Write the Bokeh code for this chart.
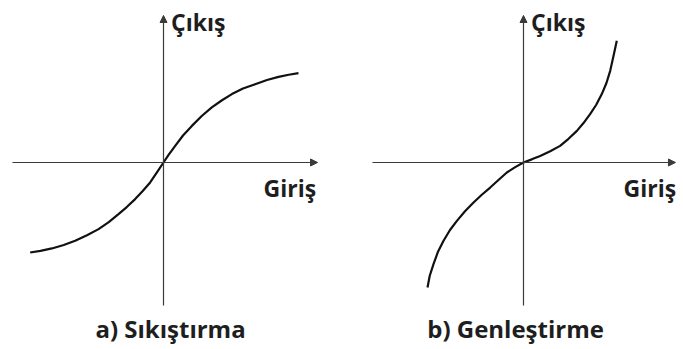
from bokeh.plotting import figure
from bokeh.models import Range1d, Arrow, NormalHead
from bokeh.layouts import row
from bokeh.core.properties import value
from bokeh.embed import file_html
from bokeh.resources import INLINE

# --- data (units: 1 = half-axis length approx) ---
comp_x = [-0.889, -0.82, -0.744, -0.665, -0.589, -0.51, -0.433, -0.365, -0.3,
          -0.245, -0.189, -0.14, -0.089, -0.045, 0.0, 0.035, 0.078, 0.13,
          0.189, 0.255, 0.322, 0.39, 0.456, 0.53, 0.611, 0.69, 0.767, 0.835, 0.9]
comp_y = [-0.6, -0.589, -0.573, -0.55, -0.522, -0.485, -0.444, -0.397, -0.344,
          -0.297, -0.244, -0.192, -0.133, -0.068, 0.0, 0.052, 0.111, 0.18,
          0.244, 0.31, 0.367, 0.415, 0.456, 0.493, 0.522, 0.55, 0.571, 0.585, 0.596]

exp_x = [-0.64, -0.625, -0.6, -0.57, -0.533, -0.49, -0.444, -0.39, -0.333,
         -0.278, -0.222, -0.167, -0.111, -0.055, 0.0, 0.055, 0.111, 0.178,
         0.244, 0.30, 0.356, 0.40, 0.444, 0.485, 0.522, 0.553, 0.578, 0.60, 0.622]
exp_y = [-0.833, -0.755, -0.678, -0.595, -0.522, -0.45, -0.389, -0.325, -0.267,
         -0.215, -0.167, -0.117, -0.067, -0.031, 0.0, 0.021, 0.044, 0.075,
         0.111, 0.158, 0.211, 0.263, 0.322, 0.385, 0.456, 0.53, 0.611, 0.71, 0.811]

y_label = "Çıkış"
x_label = "Giriş"
titles = ["a) Sıkıştırma", "b) Genleştirme"]

FONT = value("Open Sans")
TXT = "#1e1e1e"
AX = "#3a3a3a"
FS = "23px"
TFS = "24px"


def panel(xr, w, xs, ys, title, title_x, hx0, hx1):
    p = figure(width=w, height=349, x_range=Range1d(*xr),
               y_range=Range1d(-1.2467, 1.08),
               output_backend="svg", toolbar_location=None, min_border=0)
    p.axis.visible = False
    p.grid.visible = False
    p.outline_line_color = None
    p.background_fill_color = "white"
    # axes with arrows
    p.add_layout(Arrow(x_start=hx0, y_start=0, x_end=hx1, y_end=0,
                       line_color=AX, line_width=1.2,
                       end=NormalHead(size=7, fill_color=AX, line_color=AX)))
    p.add_layout(Arrow(x_start=0, y_start=-0.953, x_end=0, y_end=0.98,
                       line_color=AX, line_width=1.2,
                       end=NormalHead(size=7, fill_color=AX, line_color=AX)))
    p.line(xs, ys, line_color="#111111", line_width=2.2, line_join="round")
    p.text(x=[0.05], y=[0.935], text=[y_label], text_font=FONT,
           text_font_style="bold", text_font_size=FS, text_color=TXT,
           text_align="left", text_baseline="middle")
    p.text(x=[0.667], y=[-0.167], text=[x_label], text_font=FONT,
           text_font_size=FS, text_color=TXT, text_font_style="bold",
           text_align="left", text_baseline="middle")
    p.text(x=[title_x], y=[-1.107], text=[title], text_font=FONT,
           text_font_size=TFS, text_color=TXT, text_font_style="bold",
           text_align="center", text_baseline="middle")
    return p


p1 = panel((-1.0867, 1.1867), 341, comp_x, comp_y, titles[0], 0.047, -1.007, 1.027)
p2 = panel((-1.2133, 1.0667), 342, exp_x, exp_y, titles[1], -0.053, -1.007, 1.013)

layout = row(p1, p2, spacing=0)
open("out.html", "w").write(file_html(layout, INLINE))
